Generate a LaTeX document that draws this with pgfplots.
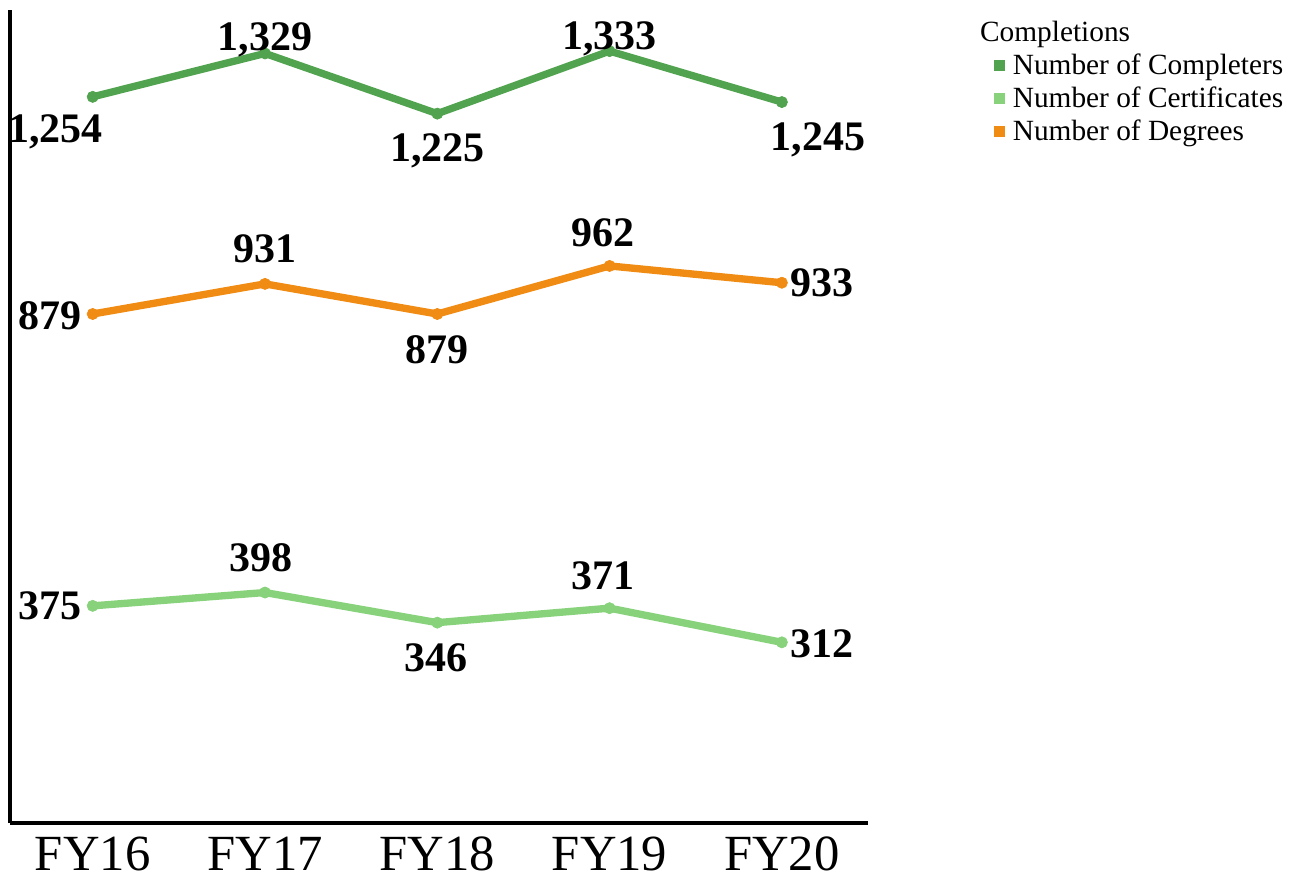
\documentclass[border=0pt]{standalone}
\usepackage{pgfplots}
\pgfplotsset{compat=1.18}
\usepackage{pgfplotstable}
\usepackage{fontspec}
\setmainfont{Liberation Serif}
\definecolor{dkgreen}{RGB}{82,163,79}
\definecolor{ltgreen}{RGB}{136,210,124}
\definecolor{orng}{RGB}{240,139,19}

\pgfplotstableread{
x y dx dy
0 1254 -37 -32
1 1329 0 17
2 1225 0 -34
3 1333 0 16
4 1245 36 -35
}\completers
\pgfplotstableread{
x y dx dy
0 375 -43 0
1 398 -4 35
2 346 -1 -35
3 371 -7 33
4 312 40 -1
}\certificates
\pgfplotstableread{
x y dx dy
0 879 -43 -2
1 931 0 35
2 879 0 -36
3 962 -7 33
4 933 40 0
}\degrees

\begin{document}
\begin{tikzpicture}
\useasboundingbox (-7.5pt,-44.25pt) rectangle (969.75pt,617.25pt);
\begin{axis}[
  at={(0pt,0pt)}, anchor=south west,
  scale only axis,
  width=643.5pt, height=609.75pt,
  xmin=-0.48, xmax=4.5,
  ymin=0, ymax=1404,
  axis x line*=bottom, axis y line*=left,
  axis line style={line width=2.5pt, black, -},
  xtick={0,1,2,3,4},
  xticklabels={FY16,FY17,FY18,FY19,FY20},
  xtick style={draw=none},
  ytick=\empty,
  xticklabel style={font=\fontsize{38}{40}\selectfont, inner sep=0pt, text depth=0pt, yshift=-7.5pt},
  clip=false,
  line width=5.5pt,
  mark size=4.2pt,
  visualization depends on={\thisrow{dx} \as \labdx},
  visualization depends on={\thisrow{dy} \as \labdy},
  nodes near coords={\pgfmathprintnumber[assume math mode=true,1000 sep={,}]{\pgfplotspointmeta}},
  point meta=y,
  every node near coord/.append style={anchor=center, text depth=0pt, black,
    font=\bfseries\fontsize{31.5}{34}\selectfont, xshift=\labdx*0.75pt, yshift=\labdy*0.75pt},
  legend image code/.code={\fill[#1, draw=none] (-1pt,-4.25pt) rectangle (7.5pt,4.25pt);},
  legend style={at={(axis description cs:1.142,0.994)}, anchor=north west,
    draw=none, fill=none, font=\fontsize{22}{24}\selectfont,
    row sep=3.75pt, inner sep=0pt,
    /tikz/every odd column/.append style={column sep=4pt}},
  legend cell align=left,
]
\addlegendimage{empty legend}
\addlegendentry{\hspace*{-24.5pt}Completions}
\addplot[color=dkgreen, mark=*, mark options={solid, line width=0.5pt}] table[x=x,y=y] {\completers};
\addlegendentry{Number of Completers}
\addplot[color=ltgreen, mark=*, mark options={solid, line width=0.5pt}] table[x=x,y=y] {\certificates};
\addlegendentry{Number of Certificates}
\addplot[color=orng, mark=*, mark options={solid, line width=0.5pt}] table[x=x,y=y] {\degrees};
\addlegendentry{Number of Degrees}
\end{axis}
\end{tikzpicture}
\end{document}
